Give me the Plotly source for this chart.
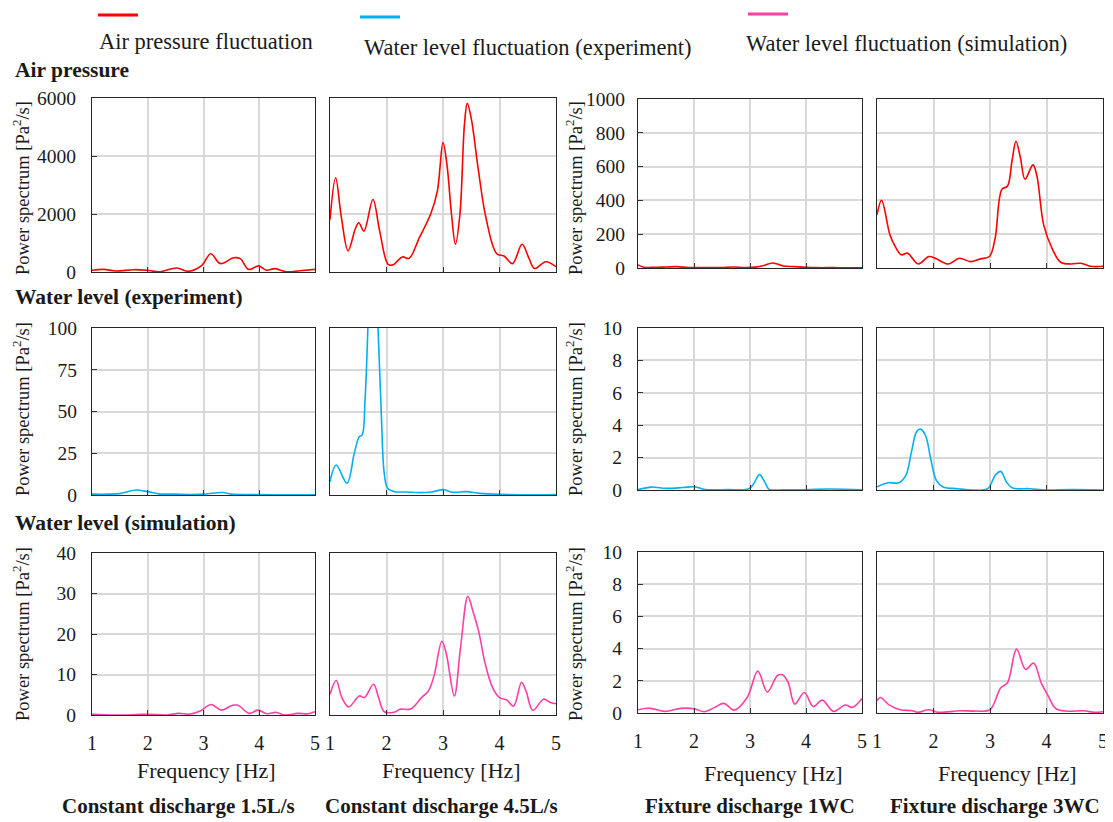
import plotly.graph_objects as go

# ---------------- data ----------------
# Row 1: air pressure fluctuation
air_15_hz = [1.00, 1.21, 1.42, 1.75, 1.99, 2.22, 2.52, 2.73, 2.97, 3.13, 3.30, 3.54, 3.66, 3.81, 3.99, 4.13, 4.28, 4.49, 4.73, 5.00]
air_15_val = [60, 90, 35, 80, 60, 10, 140, 25, 230, 630, 290, 490, 460, 90, 210, 60, 115, 5, 45, 90]

air_45_hz = [1.00, 1.10, 1.20, 1.32, 1.45, 1.51, 1.60, 1.76, 1.88, 2.03, 2.12, 2.28, 2.40, 2.58, 2.78, 2.90, 3.00, 3.07, 3.15, 3.22,
             3.30, 3.38, 3.43, 3.50, 3.62, 3.76, 3.95, 4.08, 4.23, 4.40, 4.52, 4.62, 4.82, 5.00]
air_45_val = [1800, 3250, 1900, 730, 1500, 1700, 1410, 2500, 1400, 260, 250, 520, 470, 1180, 1990, 2790, 4460, 3700, 2000, 960,
              2000, 5100, 5815, 5300, 3600, 1870, 630, 550, 290, 955, 480, 120, 355, 185]

air_1wc_hz = [1.00, 1.10, 1.30, 1.50, 1.70, 1.90, 2.10, 2.30, 2.50, 2.70, 2.90, 3.10, 3.25, 3.40, 3.50, 3.60, 3.80, 4.00, 4.20, 4.50, 4.80, 5.00]
air_1wc_val = [18, 5, 4, 6, 8, 3, 3, 2, 3, 6, 3, 5, 15, 30, 22, 12, 8, 4, 2, 2, 1, 1]

air_3wc_hz = [1.00, 1.08, 1.23, 1.31, 1.43, 1.54, 1.73, 1.92, 2.05, 2.26, 2.46, 2.65, 2.83, 2.99, 3.09, 3.21, 3.31, 3.39, 3.46,
              3.54, 3.62, 3.76, 3.83, 3.95, 4.10, 4.25, 4.43, 4.61, 4.78, 5.00]
air_3wc_val = [315, 400, 195, 135, 78, 88, 24, 68, 54, 24, 58, 38, 54, 68, 175, 465, 485, 635, 750,
               650, 525, 610, 545, 255, 115, 34, 24, 28, 10, 10]

# Row 2: water level fluctuation (experiment)
wexp_15_hz = [1.00, 1.30, 1.50, 1.70, 1.80, 2.00, 2.20, 2.50, 2.80, 3.00, 3.20, 3.35, 3.50, 4.00, 4.50, 5.00]
wexp_15_val = [0.5, 0.5, 0.8, 2.5, 3.0, 2.0, 0.7, 0.5, 0.3, 0.5, 1.2, 1.5, 0.5, 0.2, 0.1, 0.1]

wexp_45_hz = [1.00, 1.11, 1.30, 1.43, 1.52, 1.57, 1.62, 1.67, 1.72, 1.76, 1.80, 1.85, 1.91, 1.96, 2.02, 2.14, 2.35,
              2.59, 2.80, 3.01, 3.17, 3.41, 3.65, 4.00, 5.00]
wexp_45_val = [8, 18, 7, 25, 35, 36, 57, 100, 175, 210, 175, 100, 47, 13, 4, 2, 1.8,
               1.4, 1.8, 3.2, 1.6, 2.0, 1.0, 0.4, 0.2]

wexp_1wc_hz = [1.00, 1.24, 1.50, 1.80, 2.01, 2.20, 2.60, 2.97, 3.06, 3.17, 3.27, 3.34, 3.60, 4.00, 4.40, 5.00]
wexp_1wc_val = [0.02, 0.18, 0.10, 0.15, 0.20, 0.03, 0.03, 0.06, 0.35, 0.95, 0.45, 0.04, 0.02, 0.02, 0.06, 0.02]

wexp_3wc_hz = [1.00, 1.20, 1.39, 1.51, 1.61, 1.70, 1.77, 1.86, 1.95, 2.05, 2.17, 2.43, 2.68, 2.96, 3.09, 3.19, 3.29,
               3.40, 3.70, 4.00, 4.43, 5.00]
wexp_3wc_val = [0.20, 0.45, 0.45, 0.90, 2.35, 3.60, 3.76, 3.35, 1.94, 0.60, 0.19, 0.08, 0.00, 0.08, 0.90, 1.15, 0.50,
                0.12, 0.08, 0.00, 0.03, 0.00]

# Row 3: water level fluctuation (simulation)
wsim_15_hz = [1.00, 1.40, 1.80, 2.00, 2.35, 2.55, 2.75, 2.94, 3.14, 3.32, 3.52, 3.62, 3.82, 3.98, 4.14, 4.30, 4.46, 4.69, 4.88, 5.00]
wsim_15_val = [0.2, 0.0, 0.1, 0.2, 0.0, 0.4, 0.2, 1.0, 2.6, 1.2, 2.4, 2.4, 0.4, 1.2, 0.3, 0.65, 0.0, 0.4, 0.3, 0.8]

wsim_45_hz = [1.00, 1.11, 1.21, 1.33, 1.52, 1.61, 1.77, 1.86, 1.96, 2.15, 2.24, 2.43, 2.62, 2.74, 2.84, 2.98, 3.06, 3.20,
              3.31, 3.44, 3.53, 3.63, 3.75, 3.88, 4.00, 4.13, 4.25, 4.39, 4.47, 4.59, 4.78, 4.91, 5.00]
wsim_45_val = [5.1, 8.5, 4.3, 2.0, 4.7, 4.3, 7.6, 4.3, 0.8, 0.75, 1.4, 1.5, 4.3, 5.9, 9.6, 18.2, 15.0, 4.7,
               16.6, 29.3, 25.6, 20.7, 12.5, 6.7, 4.3, 3.7, 2.2, 8.1, 5.9, 1.15, 3.9, 3.0, 2.8]

wsim_1wc_hz = [1.00, 1.22, 1.48, 1.77, 2.02, 2.18, 2.37, 2.53, 2.72, 2.95, 3.14, 3.31, 3.49, 3.58, 3.68, 3.80, 3.97,
               4.13, 4.29, 4.49, 4.70, 4.83, 5.00]
wsim_1wc_val = [0.20, 0.29, 0.10, 0.29, 0.25, 0.08, 0.35, 0.60, 0.18, 0.96, 2.60, 1.30, 2.33, 2.37, 1.90, 0.55, 1.27,
                0.40, 0.80, 0.10, 0.50, 0.35, 0.90]

wsim_3wc_hz = [1.00, 1.06, 1.22, 1.41, 1.63, 1.72, 1.91, 2.09, 2.47, 2.75, 3.00, 3.19, 3.31, 3.47, 3.63, 3.77, 3.91,
               4.03, 4.16, 4.34, 4.66, 4.85, 5.00]
wsim_3wc_val = [0.76, 0.96, 0.49, 0.20, 0.14, 0.04, 0.20, 0.04, 0.14, 0.12, 0.20, 1.57, 1.88, 3.97, 2.70, 3.10, 1.84,
                1.06, 0.29, 0.12, 0.14, 0.04, 0.08]

row_titles = ["Air pressure", "Water level (experiment)", "Water level (simulation)"]
col_titles = ["Constant discharge 1.5L/s", "Constant discharge 4.5L/s", "Fixture discharge 1WC", "Fixture discharge 3WC"]
legend_names = ["Air pressure fluctuation", "Water level fluctuation (experiment)", "Water level fluctuation (simulation)"]
y_ranges = [[6000, 2000, 1000, 200], [100, 25, 10, 2], [40, 10, 10, 2]]  # (left max, left step, right max, right step)
x_ticks = [1, 2, 3, 4, 5]

series = [
    [(air_15_hz, air_15_val), (air_45_hz, air_45_val), (air_1wc_hz, air_1wc_val), (air_3wc_hz, air_3wc_val)],
    [(wexp_15_hz, wexp_15_val), (wexp_45_hz, wexp_45_val), (wexp_1wc_hz, wexp_1wc_val), (wexp_3wc_hz, wexp_3wc_val)],
    [(wsim_15_hz, wsim_15_val), (wsim_45_hz, wsim_45_val), (wsim_1wc_hz, wsim_1wc_val), (wsim_3wc_hz, wsim_3wc_val)],
]

# ---------------- styling / layout ----------------
W, H = 1113, 822
OFF = 8  # page body margin of the browser
colors = ["#FF0000", "#00B0F0", "#FF3FA4"]
FONT = "Liberation Serif"
TXT = "#1a1a1a"

col_px = [(92, 315), (330, 556), (638, 862), (877, 1103)]
row_px = [[(98, 272), (98, 272), (99, 268), (99, 268)],
          [(328, 495), (328, 495), (328, 490), (328, 490)],
          [(553, 715), (553, 715), (552, 713), (552, 713)]]
ylab_standoff = [[11, 11, 8, 8], [10, 10, 11, 11], [11, 11, 11, 11]]

def px_x(p):
    return (p - OFF) / W

def px_y(p):
    return 1 - (p - OFF) / H

fig = go.Figure()
layout = dict(
    width=W, height=H, margin=dict(l=0, r=0, t=0, b=0, pad=0, autoexpand=False),
    paper_bgcolor="white", plot_bgcolor="white", showlegend=False,
    font=dict(family=FONT, color=TXT, size=18),
)

for r in range(3):
    for c in range(4):
        idx = r * 4 + c + 1
        sfx = "" if idx == 1 else str(idx)
        hz, val = series[r][c]
        fig.add_trace(go.Scatter(
            x=hz, y=val, mode="lines", line=dict(color=colors[r], width=1.6, shape="spline", smoothing=1.0),
            xaxis="x" + sfx, yaxis="y" + sfx, hoverinfo="skip",
        ))
        x0, x1 = col_px[c]
        y0, y1 = row_px[r][c]
        ymax, ystep = (y_ranges[r][0], y_ranges[r][1]) if c < 2 else (y_ranges[r][2], y_ranges[r][3])
        layout["xaxis" + sfx] = dict(
            domain=[px_x(x0), px_x(x1)], anchor="y" + sfx, range=[1, 5],
            tickvals=x_ticks, ticktext=[str(t) for t in x_ticks], showticklabels=(r == 2),
            ticks="inside", ticklen=5, tickcolor="#333333", tickwidth=1,
            showgrid=True, gridcolor="#D9D9D9", gridwidth=2,
            showline=True, linecolor="#262626", linewidth=1.3, mirror=True,
            zeroline=False, tickfont=dict(size=20, family=FONT, color=TXT), ticklabelstandoff=10,
            automargin=False,
        )
        layout["yaxis" + sfx] = dict(
            domain=[px_y(y1), px_y(y0)], anchor="x" + sfx, range=[0, ymax],
            dtick=ystep, tick0=0, showticklabels=(c in (0, 2)),
            ticks="inside" if c in (0, 2) else "", ticklen=5, tickcolor="#333333", tickwidth=1,
            showgrid=True, gridcolor="#D9D9D9", gridwidth=2,
            showline=True, linecolor="#262626", linewidth=1.3, mirror=True,
            zeroline=False, tickfont=dict(size=19.5, family=FONT, color=TXT),
            ticklabelstandoff=ylab_standoff[r][c], automargin=False,
        )

annotations = []
shapes = []

# legend (line sample above text)
leg_line = [(98, 138, 15), (360, 400, 17), (748, 788, 14)]
leg_text = [(97, 42), (362, 47), (744, 44)]
for i in range(3):
    lx0, lx1, ly = leg_line[i]
    shapes.append(dict(type="line", xref="paper", yref="paper", x0=px_x(lx0), x1=px_x(lx1),
                       y0=px_y(ly), y1=px_y(ly), line=dict(color=colors[i], width=3)))
    tx, ty = leg_text[i]
    annotations.append(dict(text=legend_names[i], xref="paper", yref="paper", x=px_x(tx), y=px_y(ty),
                            xanchor="left", yanchor="middle", showarrow=False, font=dict(size=22.5, family=FONT, color=TXT)))

# row titles
row_title_y = [70, 297, 523]
for r in range(3):
    annotations.append(dict(text="<b>" + row_titles[r] + "</b>", xref="paper", yref="paper", x=px_x(13),
                            y=px_y(row_title_y[r]), xanchor="left", yanchor="middle", showarrow=False,
                            font=dict(size=21.5, family=FONT, color=TXT)))

# y axis titles
ytitle_x = [21, 574]
ytitle_y = [188, 409, 634]
for r in range(3):
    for k in range(2):
        annotations.append(dict(text="Power spectrum [Pa<sup>2</sup>/s]", xref="paper", yref="paper",
                                x=px_x(ytitle_x[k]), y=px_y(ytitle_y[r]), xanchor="center", yanchor="middle",
                                textangle=-90, showarrow=False, font=dict(size=18.5, family=FONT, color=TXT)))

# x axis titles and column titles
xtitle_x = [206, 451, 773, 1007]
xtitle_y = [770, 770, 773, 773]
coltitle_x = [178, 441, 750, 995]
for c in range(4):
    annotations.append(dict(text="Frequency [Hz]", xref="paper", yref="paper", x=px_x(xtitle_x[c]),
                            y=px_y(xtitle_y[c]), xanchor="center", yanchor="middle", showarrow=False,
                            font=dict(size=22, family=FONT, color=TXT)))
    annotations.append(dict(text="<b>" + col_titles[c] + "</b>", xref="paper", yref="paper", x=px_x(coltitle_x[c]),
                            y=px_y(806), xanchor="center", yanchor="middle", showarrow=False,
                            font=dict(size=21, family=FONT, color=TXT)))

layout["annotations"] = annotations
layout["shapes"] = shapes
fig.update_layout(**layout)
fig.write_html("out.html")
